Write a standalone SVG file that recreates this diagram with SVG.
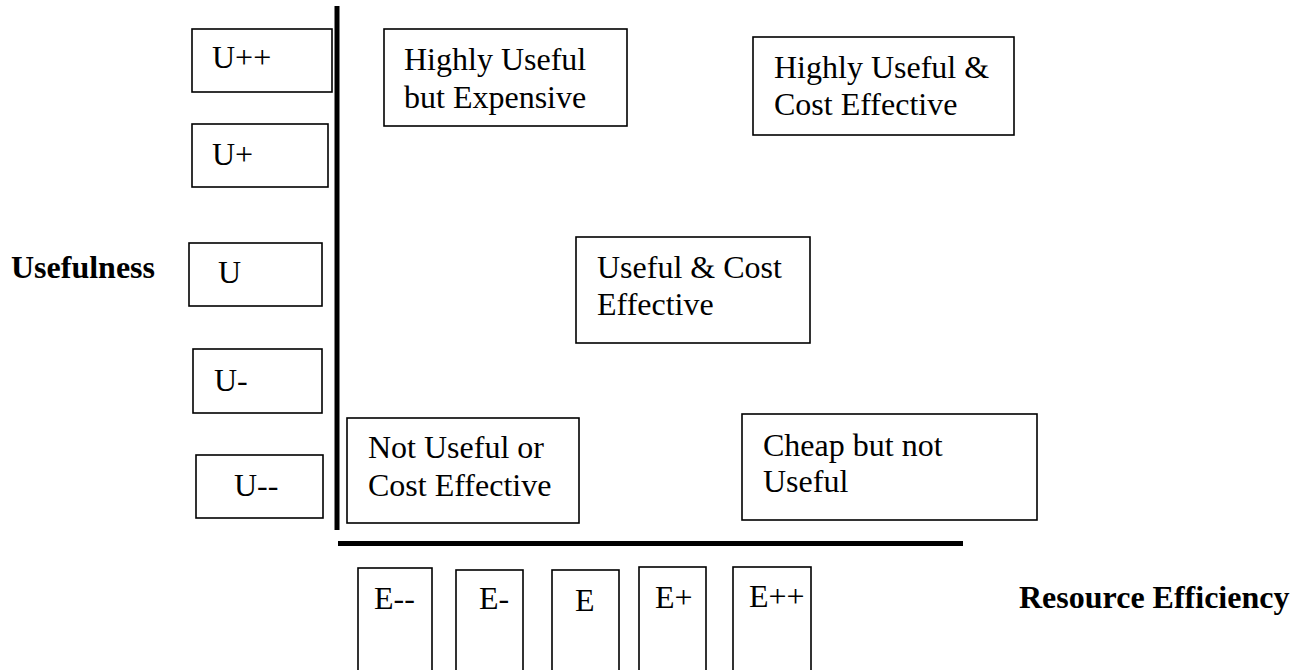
<svg xmlns="http://www.w3.org/2000/svg" width="1299" height="670" viewBox="0 0 1299 670">
<style>
.box{fill:#fff;stroke:#000;stroke-width:1.6}
.t{font-family:'Liberation Serif',serif;font-size:32px;fill:#000}
.b{font-family:'Liberation Serif',serif;font-size:32px;font-weight:bold;fill:#000}
.axis{stroke:#000;stroke-width:5;fill:none}
</style>
<rect width="1299" height="670" fill="#fff"/>
<g id="axes">
<line class="axis" x1="337" y1="6" x2="337" y2="530"/>
<line class="axis" x1="338" y1="543.5" x2="963" y2="543.5"/>
</g>
<g id="label-usefulness"><text class="b" x="11" y="278">Usefulness</text></g>
<g id="label-resource"><text class="b" x="1019" y="608">Resource Efficiency</text></g>
<g id="u-pp"><rect class="box" x="192" y="29" width="140" height="63"/><text class="t" x="212" y="68">U++</text></g>
<g id="u-p"><rect class="box" x="192" y="124" width="136" height="63"/><text class="t" x="212" y="165">U+</text></g>
<g id="u"><rect class="box" x="189" y="243" width="133" height="63"/><text class="t" x="218" y="283">U</text></g>
<g id="u-m"><rect class="box" x="193" y="349" width="129" height="64"/><text class="t" x="214" y="391">U-</text></g>
<g id="u-mm"><rect class="box" x="196" y="455" width="127" height="63"/><text class="t" x="234" y="496">U--</text></g>
<g id="highly-expensive"><rect class="box" x="384" y="29" width="243" height="97"/><text class="t" x="404" y="70">Highly Useful</text><text class="t" x="404" y="108">but Expensive</text></g>
<g id="highly-cost"><rect class="box" x="753" y="37" width="261" height="98"/><text class="t" x="774" y="78">Highly Useful &amp;</text><text class="t" x="774" y="115">Cost Effective</text></g>
<g id="useful-cost"><rect class="box" x="576" y="237" width="234" height="106"/><text class="t" x="597" y="278">Useful &amp; Cost</text><text class="t" x="597" y="315">Effective</text></g>
<g id="not-useful"><rect class="box" x="347" y="418" width="232" height="105"/><text class="t" x="368" y="458">Not Useful or</text><text class="t" x="368" y="496">Cost Effective</text></g>
<g id="cheap"><rect class="box" x="742" y="414" width="295" height="106"/><text class="t" x="763" y="456">Cheap but not</text><text class="t" x="763" y="492">Useful</text></g>
<g id="e-mm"><rect class="box" x="358" y="568" width="74" height="120"/><text class="t" x="374" y="609">E--</text></g>
<g id="e-m"><rect class="box" x="456" y="570" width="67" height="120"/><text class="t" x="479" y="609">E-</text></g>
<g id="e"><rect class="box" x="552" y="570" width="67" height="120"/><text class="t" x="575" y="611">E</text></g>
<g id="e-p"><rect class="box" x="639" y="567" width="67" height="120"/><text class="t" x="655" y="608">E+</text></g>
<g id="e-pp"><rect class="box" x="733" y="567" width="78" height="120"/><text class="t" x="749" y="607">E++</text></g>
</svg>
